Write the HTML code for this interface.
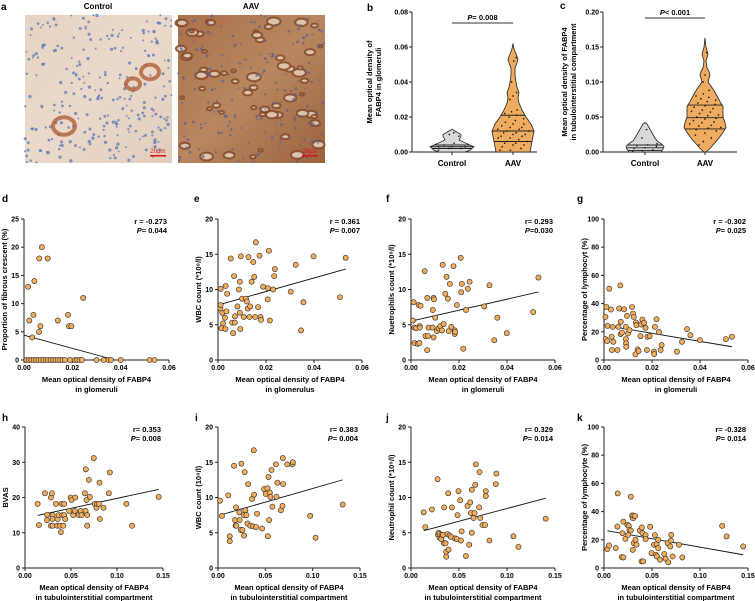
<!DOCTYPE html>
<html><head><meta charset="utf-8"><style>
html,body{margin:0;padding:0;background:#fff}
svg{display:block;font-family:"Liberation Sans",Arial,sans-serif;font-weight:bold}
</style></head><body>
<svg id="fig" width="755" height="601" viewBox="0 0 755 601" xmlns="http://www.w3.org/2000/svg">
<defs>
<linearGradient id="gCtrl" x1="0" y1="0" x2="1" y2="1"><stop offset="0" stop-color="#e6d3c3"/><stop offset="0.5" stop-color="#ead9ca"/><stop offset="1" stop-color="#e2cdbc"/></linearGradient>
<linearGradient id="gAav" x1="0" y1="0" x2="1" y2="1"><stop offset="0" stop-color="#a9704c"/><stop offset="0.5" stop-color="#b8865f"/><stop offset="1" stop-color="#9c6240"/></linearGradient>
</defs>
<g id="panelA">
<text x="1" y="10" font-size="10">a</text>
<text x="98" y="9" font-size="8" text-anchor="middle">Control</text>
<text x="251" y="9" font-size="8" text-anchor="middle">AAV</text>
<rect x="25" y="15" width="147" height="148" fill="url(#gCtrl)"/>
<rect x="178" y="15" width="147" height="148" fill="url(#gAav)"/>
<g id="texCtrl"></g><g id="texAav"></g>
<rect x="150" y="155" width="16" height="1.5" fill="#e01010"/>
<text x="158" y="153" font-size="6" fill="#e01010" text-anchor="middle" font-weight="normal">20μm</text>
<rect x="302" y="155" width="16" height="1.5" fill="#e01010"/>
<text x="310" y="153" font-size="6" fill="#e01010" text-anchor="middle" font-weight="normal">20μm</text>
</g>
<g id="charts"></g>
</svg>
<script>
// ---------- violin data ----------
const violinBCtrlLevels=[0,0.001,0.003,0.005,0.007,0.009,0.010,0.011,0.012,0.013];
const violinBCtrlHalf=[13,18,22,14,7,9,9,6,3,0];
const violinBAavLevels=[0,0.003,0.006,0.009,0.012,0.016,0.02,0.024,0.028,0.031,0.034,0.037,0.040,0.044,0.048,0.051,0.053,0.056,0.059,0.062];
const violinBAavHalf=[17,18,19,20,21,18,13,9,6,5,6,4,3,2,2,4,5,3,1,0];
const quartB_Ctrl=[0.002,0.003,0.004];
const quartB_Aav=[0.006,0.012,0.021];
const dotsB_Ctrl=[0.001,0.002,0.002,0.003,0.003,0.003,0.004,0.005,0.009,0.010,0.011];
const dotsB_Aav=[0.001,0.001,0.002,0.003,0.004,0.004,0.005,0.005,0.006,0.006,0.007,0.008,0.008,0.009,0.009,0.010,0.010,0.011,0.011,0.012,0.012,0.013,0.013,0.014,0.014,0.015,0.016,0.016,0.017,0.018,0.019,0.020,0.021,0.022,0.023,0.024,0.030,0.032,0.034,0.040,0.052,0.054];
const violinCCtrlLevels=[0,0.004,0.008,0.012,0.016,0.02,0.025,0.03,0.035,0.04,0.042];
const violinCCtrlHalf=[16,18,19,16,12,10,8,6,4,2,0];
const violinCAavLevels=[0,0.005,0.01,0.02,0.028,0.035,0.042,0.05,0.058,0.065,0.072,0.08,0.09,0.1,0.105,0.11,0.115,0.12,0.13,0.14,0.145,0.15,0.163];
const violinCAavHalf=[1,5,8,14,18,21,20,18,18,18,15,12,8,3,4,5,4,2,1,3,2,1,0];
const quartC_Ctrl=[0.002,0.006,0.010];
const quartC_Aav=[0.033,0.049,0.067];
const dotsC_Ctrl=[0.001,0.002,0.003,0.005,0.006,0.008,0.009,0.010,0.012,0.020,0.032];
const dotsC_Aav=[0.010,0.015,0.020,0.024,0.027,0.030,0.032,0.034,0.035,0.037,0.038,0.040,0.042,0.043,0.045,0.047,0.048,0.050,0.052,0.053,0.055,0.057,0.058,0.060,0.062,0.064,0.066,0.068,0.070,0.072,0.074,0.076,0.078,0.080,0.083,0.088,0.100,0.110,0.142];

// ---------- scatter data ----------
const dX=[0.0017,0.0022,0.0034,0.0039,0.0043,0.0063,0.0062,0.0068,0.0074,0.0098,0.0140,0.0182,0.0186,0.0196,0.0245,0.001,0.002,0.003,0.004,0.005,0.006,0.007,0.008,0.009,0.010,0.011,0.012,0.013,0.014,0.015,0.016,0.017,0.019,0.021,0.022,0.023,0.024,0.030,0.033,0.035,0.036,0.040,0.052,0.054];
const dY=[13,7,4,8,14,18,5,6,20,18,7,8,6,6,11,0,0,0,0,0,0,0,0,0,0,0,0,0,0,0,0,0,0,0,0,0,0,0,0,0,0,0,0,0];
const dLine=[[0,4.4],[0.0377,0]];
const eX=[0.0010,0.0011,0.0011,0.0014,0.0018,0.0021,0.0029,0.0031,0.0032,0.0038,0.0035,0.0053,0.0059,0.0063,0.0067,0.0070,0.0071,0.0081,0.0087,0.0091,0.0091,0.0093,0.0095,0.0100,0.0107,0.0116,0.0120,0.0124,0.0127,0.0131,0.0134,0.0140,0.0147,0.0151,0.0155,0.0158,0.0167,0.0173,0.0177,0.0179,0.0188,0.0207,0.0208,0.0212,0.0216,0.0230,0.0234,0.0237,0.0303,0.0324,0.0398,0.0346,0.0356,0.0508,0.0532];
const eY=[7.3,7.8,10.1,4.5,6.7,5.2,6.0,4.4,10.5,9.4,6.9,14.4,5.3,3.8,11.9,5.3,6.2,7.6,10.0,11.1,6.7,4.4,14.7,8.7,6.1,8.7,8.3,7.3,14.6,6.1,7.6,11.1,13.9,11.8,6.1,16.7,7.5,14.8,6.1,5.7,10.4,8.6,10.2,15.5,5.6,10.0,11.9,12.9,9.7,13.5,14.7,4.2,8.2,8.9,14.5];
const eLine=[[0,7.8],[0.0532,12.9]];
const fX=[0.0008,0.0011,0.0014,0.0015,0.0021,0.0028,0.0032,0.0035,0.0036,0.0037,0.0040,0.0057,0.0060,0.0067,0.0068,0.0071,0.0073,0.0090,0.0091,0.0094,0.0094,0.0096,0.0101,0.0108,0.0115,0.0122,0.0129,0.0132,0.0136,0.0143,0.0148,0.0154,0.0157,0.0162,0.0168,0.0177,0.0182,0.0182,0.0184,0.0191,0.0207,0.0209,0.0212,0.0218,0.0229,0.0237,0.0244,0.0305,0.0327,0.0347,0.0360,0.0399,0.0509,0.0531];
const fY=[5.6,8.2,4.6,2.4,4.5,2.3,7.8,2.4,4.8,4.6,7.7,12.6,3.4,1.4,8.8,3.4,4.6,4.6,7.1,8.8,3.2,8.6,6.0,4.1,4.5,4.8,4.2,13.5,5.1,9.4,11.8,8.7,4.1,10.8,4.7,13.3,3.7,4.2,4.0,7.8,14.5,9.6,10.8,1.6,7.1,10.1,11.1,7.6,10.6,2.8,6.0,3.8,6.8,11.7];
const fLine=[[0,5.5],[0.0531,9.65]];
const gX=[0.0006,0.0007,0.0010,0.0013,0.0015,0.0022,0.0029,0.0032,0.0033,0.0036,0.0039,0.0056,0.0060,0.0063,0.0068,0.0070,0.0070,0.0075,0.0084,0.0091,0.0091,0.0092,0.0093,0.0096,0.0100,0.0106,0.0117,0.0121,0.0124,0.0131,0.0133,0.0135,0.0140,0.0144,0.0152,0.0155,0.0160,0.0167,0.0173,0.0179,0.0181,0.0190,0.0208,0.0209,0.0212,0.0219,0.0229,0.0236,0.0240,0.0304,0.0325,0.0346,0.0360,0.0400,0.0508,0.0533];
const gY=[30.6,14.8,37.6,13.4,24.2,50.6,35.8,16.5,7.1,23.5,12.9,7.1,23.5,36.5,52.9,27.1,18.4,19.5,36,23.5,14.8,11.8,9.4,31.3,18.8,21.2,37.6,32.9,30.6,4,26.6,24.7,7.5,6.4,16.9,25.2,28.7,26.4,22.8,7.1,16.5,16.9,5.9,4.2,23.5,28.9,19.8,7.1,10.6,5.9,12.9,21.9,17.6,14.1,14.8,16.5];
const gLine=[[0,24.7],[0.0533,9.4]];
const hX=[0.0137,0.0152,0.0217,0.0239,0.0242,0.0282,0.0282,0.0293,0.0300,0.0300,0.0300,0.0336,0.0351,0.0354,0.0365,0.0379,0.0390,0.0398,0.0405,0.0416,0.0426,0.0426,0.0437,0.0481,0.0495,0.0506,0.0524,0.0546,0.0542,0.0585,0.0604,0.0614,0.0651,0.0658,0.0661,0.0669,0.0676,0.0676,0.0694,0.0705,0.0748,0.0759,0.0777,0.0784,0.0802,0.0810,0.0813,0.0853,0.0911,0.0922,0.1102,0.1164,0.1453];
const hY=[18.2,12.2,21.2,13.6,15.1,12,20,21.2,15,13.9,12,18.2,12,13.9,15,12,10.2,18.2,15,12,18.2,15,13.9,16.2,20,19.3,15,20,16.2,15,16.2,15,21.2,16.2,28,19.3,15,12,25,20.2,31.2,18.2,17.1,18.2,18.2,24.2,13.9,17.1,21.2,27.1,18.2,12,20.2];
const hLine=[[0.0137,14.9],[0.1453,22.3]];
const iX=[0.0021,0.0042,0.0109,0.0124,0.0124,0.0169,0.0180,0.0187,0.0191,0.0194,0.0226,0.0229,0.0240,0.0247,0.0258,0.0272,0.0275,0.0282,0.0289,0.0300,0.0311,0.0318,0.0342,0.0360,0.0371,0.0378,0.0381,0.0402,0.0413,0.0466,0.0487,0.0505,0.0522,0.0526,0.0533,0.0540,0.0547,0.0554,0.0565,0.0575,0.0611,0.0618,0.0628,0.0664,0.0681,0.0685,0.0688,0.0731,0.0787,0.0791,0.0974,0.1031,0.1317];
const iY=[9.55,7.4,10.3,4.5,3.8,14.5,6.8,6.0,8.6,6.0,7.9,6.8,5.4,14.8,5.4,7.5,4.6,13.6,8.2,7.5,6.3,11.9,6.0,9.8,5.9,16.7,10.4,5.8,7.7,5.6,11.2,10.5,11.3,4.5,12.9,6.8,10.7,10.1,13.9,8.7,14.7,10.1,12.1,8.2,8.8,15.6,11.9,14.7,14.7,15,7.4,4.3,9.0];
const iLine=[[0.0021,7.5],[0.1317,12.5]];
const jX=[0.0132,0.0149,0.0218,0.0277,0.0281,0.0288,0.0298,0.0298,0.0315,0.0322,0.0333,0.0343,0.0346,0.0360,0.0367,0.0367,0.0381,0.0388,0.0391,0.0402,0.0419,0.0426,0.0461,0.0478,0.0485,0.0495,0.0513,0.0520,0.0527,0.0572,0.0589,0.0606,0.0617,0.0624,0.0634,0.0634,0.0651,0.0662,0.0669,0.0675,0.0710,0.0714,0.0721,0.0745,0.0772,0.0779,0.0779,0.0817,0.0883,0.0890,0.1067,0.1119,0.1403];
const jY=[7.9,5.8,8.3,12.6,4.7,5.0,4.3,4.8,4.1,4.7,4.7,3.5,8.6,3.5,2.3,1.6,4.8,10.6,2.6,4.6,4.4,8.6,4.2,4.1,7.5,10.9,9.6,3.9,5.2,1.7,8.8,3.3,9.3,7.8,11.1,5.0,7.1,7.8,11.8,14.7,8.6,13.6,7.1,6.1,6.1,10.2,10.9,3.9,11.9,13.4,4.5,3.0,7.0];
const jLine=[[0.0132,5.3],[0.1403,9.9]];
const kX=[0.0035,0.0052,0.0122,0.0140,0.0143,0.0185,0.0192,0.0202,0.0202,0.0223,0.0244,0.0251,0.0258,0.0265,0.0279,0.0279,0.0293,0.0300,0.0303,0.0307,0.0310,0.0324,0.0328,0.0338,0.0373,0.0391,0.0394,0.0401,0.0408,0.0433,0.0433,0.0481,0.0495,0.0520,0.0530,0.0541,0.0548,0.0551,0.0565,0.0565,0.0583,0.0628,0.0642,0.0663,0.0670,0.0691,0.0698,0.0701,0.0715,0.0781,0.0816,0.1231,0.1277,0.1450];
const kY=[13.4,16,14.1,29.4,52.9,7.8,24.7,7.5,32.9,20.7,30.6,23.5,29.9,27.1,50.6,26.6,37.2,12.9,35.3,37.2,17.6,36.9,20.0,16.5,26.6,4.7,28.7,24.7,4.7,23.3,20.5,29.2,10.6,16.5,23.3,9.4,16.9,8.2,14.1,20,5.9,9.9,6.6,17.6,4.0,15.3,19.5,23.5,8.2,16.5,7.5,29.9,22.4,15.3];
const kLine=[[0.0035,26.4],[0.145,9.4]];

const xTicksGlom=[0,0.02,0.04,0.06];
const xTickLabelsGlom=["0.00","0.02","0.04","0.06"];
const xTicksTub=[0,0.05,0.10,0.15];
const xTickLabelsTub=["0.00","0.05","0.10","0.15"];
const yTicks25=[0,5,10,15,20,25];
const yTicks20=[0,5,10,15,20];
const yTicks100=[0,20,40,60,80,100];
const yTicks40=[0,10,20,30,40];

const NS="http://www.w3.org/2000/svg";
const root=document.getElementById('charts');
function mk(tag,attrs,parent,txt){const e=document.createElementNS(NS,tag);for(const k in attrs)e.setAttribute(k,attrs[k]);if(txt!==undefined)e.textContent=txt;(parent||root).appendChild(e);return e;}

// ---------- micrograph textures (decorative) ----------
(function(){
 let s=7;function rnd(){s=(s*16807)%2147483647;return s/2147483647;}
 const tc=document.getElementById('texCtrl');
 for(let i=0;i<260;i++){mk('circle',{cx:25+rnd()*147,cy:15+rnd()*148,r:0.9+rnd()*0.8,fill:'#5a78b8','fill-opacity':0.75},tc);}
 [[150,72,9],[133,84,7],[64,126,11]].forEach(t=>{mk('ellipse',{cx:t[0],cy:t[1],rx:t[2],ry:t[2]*0.8,fill:'none',stroke:'#b0603a','stroke-width':4,'stroke-opacity':0.8},tc);});
 const ta=document.getElementById('texAav');
 for(let i=0;i<60;i++){const cx=180+rnd()*143,cy=17+rnd()*144,r=2+rnd()*5;mk('ellipse',{cx:cx,cy:cy,rx:r,ry:r*0.6,fill:'#dcc3ad',stroke:'#7e4224','stroke-width':2,'stroke-opacity':0.8},ta);}
 for(let i=0;i<180;i++){mk('circle',{cx:178+rnd()*147,cy:15+rnd()*148,r:0.8+rnd()*0.7,fill:'#55609a','fill-opacity':0.7},ta);}
})();

// ---------- violin panels ----------
function violinPanel(cfg){
 const g=mk('g',{});
 
 
 const ys=v=>cfg.y0-(v/cfg.ymax)*(cfg.y0-cfg.y1);
 const ya=mk('line',{x1:cfg.ax,y1:cfg.y1,x2:cfg.ax,y2:cfg.y0,stroke:'#222','stroke-width':1},g);
 
 const xa=mk('line',{x1:cfg.ax,y1:cfg.y0,x2:cfg.axEnd,y2:cfg.y0,stroke:'#222','stroke-width':1},g);
 
 cfg.yticks.forEach((t,i)=>{const y=ys(t);mk('line',{x1:cfg.ax-3,y1:y,x2:cfg.ax,y2:y,stroke:'#222'},g);
  const tl=mk('text',{x:cfg.ax-4,y:y+2.5,'font-size':7,'text-anchor':'end'},g,cfg.yticklabels[i]);
  });
 cfg.groups.forEach(gr=>{
  mk('line',{x1:gr.cx,y1:cfg.y0,x2:gr.cx,y2:cfg.y0+3,stroke:'#222'},g);
  const lb=mk('text',{x:gr.cx,y:cfg.y0+14,'font-size':8,'text-anchor':'middle'},g,gr.label);
  
  let pts=[];
  gr.levels.forEach((l,i)=>pts.push([gr.cx+gr.half[i],ys(l)]));
  for(let i=gr.levels.length-1;i>=0;i--)pts.push([gr.cx-gr.half[i],ys(gr.levels[i])]);
  const p=mk('path',{d:'M'+pts.map(q=>q[0].toFixed(1)+','+q[1].toFixed(1)).join('L')+'Z',fill:gr.fill,stroke:'#222','stroke-width':0.8},g);
  
  const halfAt=v=>{for(let i=1;i<gr.levels.length;i++){if(v<=gr.levels[i]){const t=(v-gr.levels[i-1])/(gr.levels[i]-gr.levels[i-1]);return gr.half[i-1]+t*(gr.half[i]-gr.half[i-1]);}}return 0;};
  gr.quart.forEach(q=>{const h=halfAt(q);const ql=mk('line',{x1:gr.cx-h,y1:ys(q),x2:gr.cx+h,y2:ys(q),stroke:'#222','stroke-width':0.9},g);
   });
  gr.dots.forEach((d,i)=>{const h=halfAt(d);const off=((i*37)%11-5)/5*h*0.75;
   const dt=mk('rect',{x:gr.cx+off-0.7,y:ys(d)-0.7,width:1.4,height:1.4,fill:'#111'},g);
   });
 });
 const pb=mk('line',{x1:cfg.groups[0].cx,y1:cfg.pY,x2:cfg.groups[1].cx,y2:cfg.pY,stroke:'#333','stroke-width':1},g);
 
 const pt=mk('text',{x:(cfg.groups[0].cx+cfg.groups[1].cx)/2,y:cfg.pY-3,'font-size':7.5,'text-anchor':'middle'},g);
 
 mk('tspan',{'font-style':'italic'},pt,'P');mk('tspan',{},pt,cfg.pText);
 const yl=mk('text',{transform:`translate(${cfg.ylx},${(cfg.y0+cfg.y1)/2}) rotate(-90)`,'font-size':7.5,'text-anchor':'middle'},g);
 
 mk('tspan',{x:0,dy:0},yl,cfg.ylab[0]);mk('tspan',{x:0,dy:9},yl,cfg.ylab[1]);
 const pl=mk('text',{x:cfg.lx,y:cfg.ly,'font-size':10},g,cfg.letter);
 
}
violinPanel({name:'panel-b-violin',letter:'b',lx:367,ly:11,ax:412,axEnd:537,y0:152,y1:12,ymax:0.08,
 yticks:[0,0.02,0.04,0.06,0.08],yticklabels:["0.00","0.02","0.04","0.06","0.08"],pY:23,pText:'= 0.008',ylx:372,
 ylab:['Mean optical density of','FABP4 in glomeruli'],
 groups:[{cx:452,label:'Control',levels:violinBCtrlLevels,half:violinBCtrlHalf,quart:quartB_Ctrl,dots:dotsB_Ctrl,fill:'#d9d9d9',name:'violin-control'},
  {cx:513,label:'AAV',levels:violinBAavLevels,half:violinBAavHalf,quart:quartB_Aav,dots:dotsB_Aav,fill:'#efab5f',name:'violin-aav'}]});
violinPanel({name:'panel-c-violin',letter:'c',lx:560,ly:9,ax:603,axEnd:737,y0:152,y1:12,ymax:0.20,
 yticks:[0,0.05,0.10,0.15,0.20],yticklabels:["0.00","0.05","0.10","0.15","0.20"],pY:18,pText:'< 0.001',ylx:567,
 ylab:['Mean optical density of FABP4','in tubulointerstitial compartment'],
 groups:[{cx:645,label:'Control',levels:violinCCtrlLevels,half:violinCCtrlHalf,quart:quartC_Ctrl,dots:dotsC_Ctrl,fill:'#d9d9d9',name:'violin-control'},
  {cx:705,label:'AAV',levels:violinCAavLevels,half:violinCAavHalf,quart:quartC_Aav,dots:dotsC_Aav,fill:'#efab5f',name:'violin-aav'}]});

// ---------- scatter panels ----------
function scatter(cfg){
 const g=mk('g',{});
 
 
 const xs=v=>cfg.x0+(v-cfg.xticks[0])/(cfg.xticks[cfg.xticks.length-1]-cfg.xticks[0])*(cfg.x1-cfg.x0);
 const ymax=cfg.yticks[cfg.yticks.length-1];
 const ys=v=>cfg.y0-(v/ymax)*(cfg.y0-cfg.y1);
 const ya=mk('line',{x1:cfg.x0,y1:cfg.y1,x2:cfg.x0,y2:cfg.y0,stroke:'#222','stroke-width':1},g);
 
 const xa=mk('line',{x1:cfg.x0,y1:cfg.y0,x2:cfg.x1,y2:cfg.y0,stroke:'#222','stroke-width':1},g);
 
 cfg.yticks.forEach(t=>{const y=ys(t);mk('line',{x1:cfg.x0-3,y1:y,x2:cfg.x0,y2:y,stroke:'#222'},g);
  const tl=mk('text',{x:cfg.x0-5,y:y+2.5,'font-size':7,'text-anchor':'end'},g,String(t));
  });
 cfg.xticks.forEach((t,i)=>{const x=xs(t);mk('line',{x1:x,y1:cfg.y0,x2:x,y2:cfg.y0+3,stroke:'#222'},g);
  const tl=mk('text',{x:x,y:cfg.y0+10,'font-size':7,'text-anchor':'middle'},g,cfg.xlabels[i]);
  });
 const rl=mk('line',{x1:xs(cfg.line[0][0]),y1:ys(cfg.line[0][1]),x2:xs(cfg.line[1][0]),y2:ys(cfg.line[1][1]),stroke:'#111','stroke-width':0.9},g);
 
 cfg.xd.forEach((v,i)=>{const c=mk('circle',{cx:xs(v),cy:ys(cfg.yd[i]),r:2.6,fill:'#f2ac5a',stroke:'#2a2a2a','stroke-width':0.6},g);
  });
 const rt=mk('text',{x:cfg.x1-2,y:cfg.y1+5,'font-size':7.5,'text-anchor':'end'},g,cfg.r);
 
 const pt=mk('text',{x:cfg.x1-2,y:cfg.y1+14,'font-size':7.5,'text-anchor':'end'},g);
 
 mk('tspan',{'font-style':'italic'},pt,'P');mk('tspan',{},pt,cfg.p);
 const yl=mk('text',{transform:`translate(${cfg.x0-17},${(cfg.y0+cfg.y1)/2}) rotate(-90)`,'font-size':7.5,'text-anchor':'middle'},g,cfg.ylab);
 
 const xl=mk('text',{x:(cfg.x0+cfg.x1)/2,y:cfg.y0+22,'font-size':7.5,'text-anchor':'middle'},g);
 
 mk('tspan',{x:(cfg.x0+cfg.x1)/2,dy:0},xl,'Mean optical density of FABP4');
 mk('tspan',{x:(cfg.x0+cfg.x1)/2,dy:10},xl,cfg.xsub);
 const pl=mk('text',{x:cfg.lx,y:cfg.ly,'font-size':10},g,cfg.letter);
 
}
const R2={y0:360,y1:219,ly:202,xticks:xTicksGlom,xlabels:xTickLabelsGlom};
const R3={y0:568,y1:427,ly:421,xticks:xTicksTub,xlabels:xTickLabelsTub};
scatter(Object.assign({},R2,{name:'panel-d-scatter',letter:'d',lx:2,x0:24,x1:169,yticks:yTicks25,xd:dX,yd:dY,line:dLine,r:'r = -0.273',p:'=  0.044',ylab:'Proportion of fibrous crescent (%)',xsub:'in glomeruli'}));
scatter(Object.assign({},R2,{name:'panel-e-scatter',letter:'e',lx:194,x0:218,x1:362,yticks:yTicks20,xd:eX,yd:eY,line:eLine,r:'r = 0.361',p:'= 0.007',ylab:'WBC count (*10⁹/l)',xsub:'in glomerulus'}));
scatter(Object.assign({},R2,{name:'panel-f-scatter',letter:'f',lx:386,x0:411,x1:555,yticks:yTicks20,xd:fX,yd:fY,line:fLine,r:'r= 0.293',p:'=0.030',ylab:'Nuetrophils count (*10⁹/l)',xsub:'in glomeruli'}));
scatter(Object.assign({},R2,{name:'panel-g-scatter',letter:'g',lx:577,x0:604,x1:748,yticks:yTicks100,xd:gX,yd:gY,line:gLine,r:'r = -0.302',p:'= 0.025',ylab:'Percentage of lymphocyt (%)',xsub:'in glomeruli'}));
scatter(Object.assign({},R3,{name:'panel-h-scatter',letter:'h',lx:2,x0:25,x1:163,yticks:yTicks40,xd:hX,yd:hY,line:hLine,r:'r= 0.353',p:'= 0.008',ylab:'BVAS',xsub:'in tubulointerstitial compartment'}));
scatter(Object.assign({},R3,{name:'panel-i-scatter',letter:'i',lx:195,x0:218,x1:360,yticks:yTicks20,xd:iX,yd:iY,line:iLine,r:'r= 0.383',p:'= 0.004',ylab:'WBC count (10⁹/l)',xsub:'in tubulointerstitial compartment'}));
scatter(Object.assign({},R3,{name:'panel-j-scatter',letter:'j',lx:386,x0:411,x1:555,yticks:yTicks20,xd:jX,yd:jY,line:jLine,r:'r= 0.329',p:'= 0.014',ylab:'Neutrophil count (*10⁹/l)',xsub:'in tubulointerstitial compartment'}));
scatter(Object.assign({},R3,{name:'panel-k-scatter',letter:'k',lx:577,x0:604,x1:748,yticks:yTicks100,xd:kX,yd:kY,line:kLine,r:'r= -0.328',p:'= 0.014',ylab:'Percentage of lymphocyte (%)',xsub:'in tubulointerstitial compartment'}));
</script>
</body></html>
